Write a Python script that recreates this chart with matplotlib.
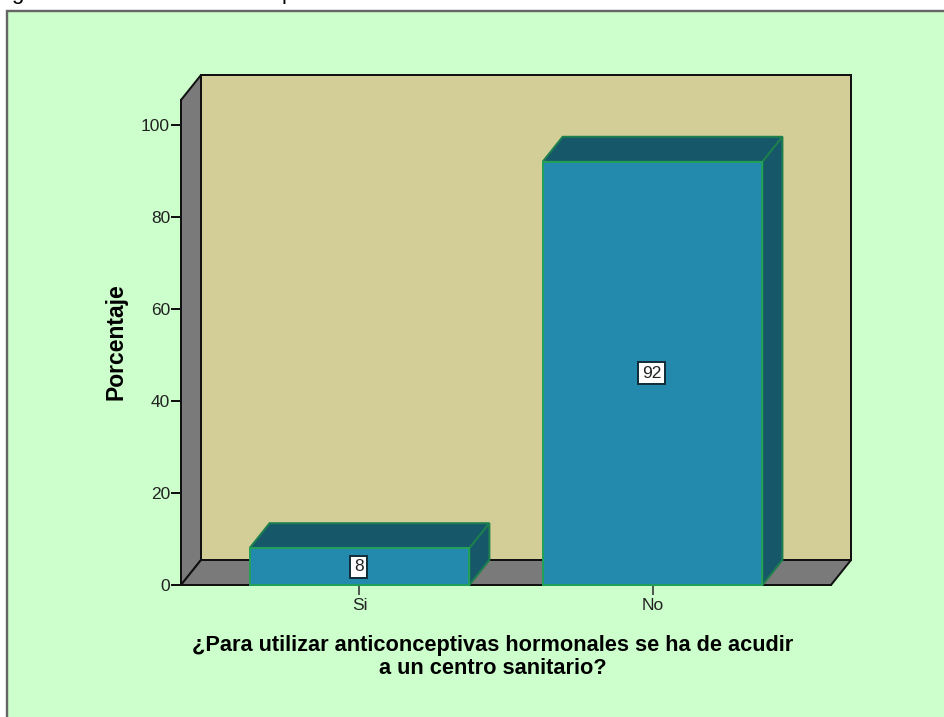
"""SPSS-style 3D bar chart, percent of answers per category."""
import matplotlib
matplotlib.use("Agg")
import matplotlib.pyplot as plt
from matplotlib.patches import Polygon, Rectangle

categories = ["Si", "No"]
values = [8, 92]
y_ticks = [0, 20, 40, 60, 80, 100]
y_label = "Porcentaje"
x_label = "¿Para utilizar anticonceptivas hormonales se ha de acudir\na un centro sanitario?"

W, H = 944, 717
PX_X = 293.0   # pixels per category step
PX_Y = 4.6     # pixels per percent
DX = 20 / PX_X  # depth offset
DY = 25 / PX_Y
XMIN, XMAX = -0.609, 1.609
YTOP = 105.43
BAR_W = 0.75

BG = "#CCFFCC"
WALL = "#D3CE97"
GREY = "#7A7A7A"
BAR = "#2389AD"
BAR_DARK = "#165869"
BAR_EDGE = "#22A05A"
INK = "#111111"

plt.rcParams["font.family"] = ["Liberation Sans", "DejaVu Sans"]


def px(v):
    return v * 72 / 100


fig = plt.figure(figsize=(W / 100, H / 100), dpi=100, facecolor="white")

# outer frame, runs off the right and bottom of the picture
bg = fig.add_axes([0, 0, 1, 1])
bg.set_xlim(0, W)
bg.set_ylim(H, 0)
bg.axis("off")
bg.add_patch(Rectangle((6.5, 10.5), 1000, 1000, fc=BG, ec="#666666", lw=px(2.4)))
# title is cropped by the top edge, only the descenders show
bg.text(11, -1, "g", fontsize=16, va="baseline", color="black")
bg.text(282, -1, "p", fontsize=16, va="baseline", color="black")

ax = fig.add_axes([181 / W, 1 - 585 / H, 650 / W, 485 / H], facecolor="none")
ax.set_xlim(XMIN, XMAX)
ax.set_ylim(0, YTOP)


def poly(points, fc, ec, z):
    ax.add_patch(Polygon(points, closed=True, fc=fc, ec=ec, lw=px(2),
                         clip_on=False, zorder=z, joinstyle="miter"))


# back wall, left wall and floor
poly([(XMIN + DX, DY), (XMAX + DX, DY), (XMAX + DX, YTOP + DY), (XMIN + DX, YTOP + DY)],
     WALL, INK, 1)
poly([(XMIN, 0), (XMIN, YTOP), (XMIN + DX, YTOP + DY), (XMIN + DX, DY)], GREY, INK, 1.1)
poly([(XMIN, 0), (XMAX, 0), (XMAX + DX, DY), (XMIN + DX, DY)], GREY, INK, 1.1)

xs = list(range(len(categories)))
ax.bar(xs, values, width=BAR_W, color=BAR, edgecolor=BAR_EDGE, linewidth=px(2),
       zorder=3, clip_on=False)
for x, v in zip(xs, values):
    l, r = x - BAR_W / 2, x + BAR_W / 2
    poly([(l, v), (r, v), (r + DX, v + DY), (l + DX, v + DY)], BAR_DARK, "#1D7F4E", 2.5)
    poly([(r, 0), (r, v), (r + DX, v + DY), (r + DX, DY)], BAR_DARK, "#1D7F4E", 2.5)
    ax.text(x - 0.003, v / 2, str(v), ha="center", va="center", fontsize=12.5, color="#222222",
            zorder=5, bbox=dict(boxstyle="square,pad=0.2", fc="white", ec="#12303a", lw=px(2)))

ax.set_xticks(xs, categories)
ax.set_yticks(y_ticks)
ax.tick_params(axis="y", length=px(10), width=px(2), pad=px(1), labelsize=12.5, color=INK,
               labelcolor="#222222")
ax.tick_params(axis="x", length=px(10), width=px(1.6), pad=px(3), labelsize=12.5, color="#333333",
               labelcolor="#222222")
for s in ["top", "right"]:
    ax.spines[s].set_visible(False)
for s in ["left", "bottom"]:
    ax.spines[s].set_linewidth(px(2))
    ax.spines[s].set_color(INK)
    ax.spines[s].set_zorder(1.5)

fig.text(116 / W, 1 - 342 / H, y_label, rotation=90, ha="center", va="center",
         fontsize=16.5, fontweight="bold", color="black")
fig.text(492.5 / W, 1 - 657 / H, x_label, ha="center", va="center", fontsize=15.7,
         fontweight="bold", color="black", linespacing=1.17)

fig.savefig("out.png", dpi=100)
